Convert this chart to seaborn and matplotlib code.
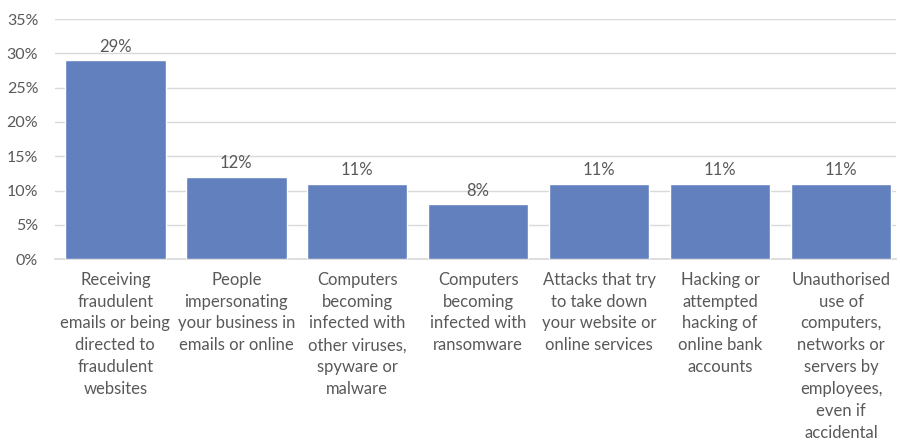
import matplotlib.pyplot as plt
import pandas as pd
import seaborn as sns
from matplotlib.ticker import PercentFormatter

categories = [
    "Receiving\nfraudulent\nemails or being\ndirected to\nfraudulent\nwebsites",
    "People\nimpersonating\nyour business in\nemails or online",
    "Computers\nbecoming\ninfected with\nother viruses,\nspyware or\nmalware",
    "Computers\nbecoming\ninfected with\nransomware",
    "Attacks that try\nto take down\nyour website or\nonline services",
    "Hacking or\nattempted\nhacking of\nonline bank\naccounts",
    "Unauthorised\nuse of\ncomputers,\nnetworks or\nservers by\nemployees,\neven if\naccidental",
]
values = [29, 12, 11, 8, 11, 11, 11]

df = pd.DataFrame({"category": categories, "value": values})

sns.set_theme(style="white")
plt.rcParams["font.family"] = ["Lato", "DejaVu Sans"]
text_color = "#595959"

fig = plt.figure(figsize=(9, 4.43), dpi=100)
ax = fig.add_axes([0.061, 0.415, 0.934, 0.542])

sns.barplot(data=df, x="category", y="value", color="#6380BE", saturation=1,
            width=0.83, ax=ax, zorder=3)

for i, v in enumerate(values):
    ax.text(i, v + 0.8, f"{v}%", ha="center", va="bottom", fontsize=12, color=text_color)

ax.set_ylim(0, 35)
ax.set_yticks(range(0, 36, 5))
ax.yaxis.set_major_formatter(PercentFormatter(decimals=0))
ax.yaxis.grid(True, color="#D9D9D9", linewidth=1, zorder=0)
ax.set_xlim(-0.5, 6.45)
ax.set_xlabel("")
ax.set_ylabel("")
for side in ["top", "right", "left"]:
    ax.spines[side].set_visible(False)
ax.spines["bottom"].set_color("#D9D9D9")
ax.tick_params(axis="y", length=0, labelsize=11.5, labelcolor=text_color, pad=12)
ax.tick_params(axis="x", length=0, labelsize=12, labelcolor=text_color, pad=9)
for lab in ax.get_xticklabels():
    lab.set_linespacing(1.45)

fig.savefig("out.png", dpi=100)
